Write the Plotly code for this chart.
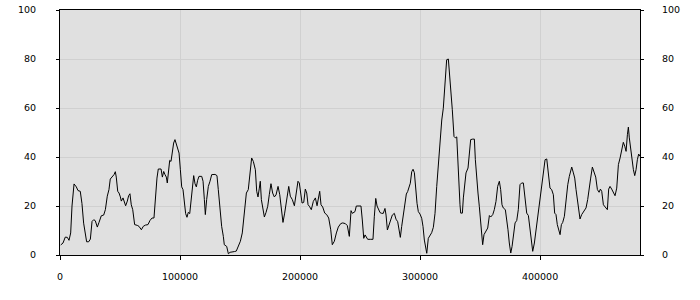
import plotly.graph_objects as go

# x positions (thousands) and values
x_k = [
    0.6, 2.5, 4.4, 6.1, 7.5, 8.9, 10.0, 11.7, 13.6, 15.0, 16.9, 18.3, 19.7, 21.1, 22.2, 23.9,
    25.3, 26.7, 28.1, 29.4, 31.1, 32.5, 34.4, 36.4, 37.8, 39.4, 40.8, 41.9, 43.6, 45.0, 46.1,
    46.9, 48.1, 49.2, 50.3, 51.1, 52.5, 53.6, 54.7, 56.1, 57.2, 58.3, 59.4, 60.6, 62.2, 64.4,
    65.8, 67.8, 69.4, 71.1, 73.3, 75.0, 76.7, 78.3, 79.4, 80.8,
    81.9, 84.2, 85.3, 86.4, 87.5, 88.6, 89.4, 90.3, 91.4, 92.5, 93.6, 94.7, 95.8, 96.9, 98.1,
    99.2, 100.3, 101.4, 102.5, 103.6, 104.7, 105.8, 106.9, 108.1, 109.2, 110.3, 111.4, 112.5,
    113.6, 114.7, 115.8, 118.1, 119.2, 120.3, 121.1, 122.2, 123.6, 125.0, 126.4, 129.2, 130.8,
    131.9, 133.3, 134.7, 136.1, 136.9, 138.9, 140.3, 141.7, 143.6, 145.3, 146.9, 148.6, 150.3,
    151.9, 153.6, 155.3, 156.9, 158.3, 159.7, 161.1,
    162.8, 163.9, 165.0, 166.1, 166.9, 167.8, 168.9, 170.3, 171.7, 173.1, 174.4, 175.8, 177.2,
    178.6, 180.0, 181.7, 183.1, 184.4, 185.8, 187.2, 188.9, 190.6, 191.9, 193.6, 195.3, 196.7,
    198.3, 199.4, 200.6, 201.7, 203.1, 204.4, 205.6, 206.7, 207.8, 209.4, 211.1, 212.8, 214.2,
    215.3, 216.4, 217.5, 218.9, 220.6, 222.2, 223.9, 225.6, 226.9, 228.6, 230.3, 231.9, 233.9,
    235.6, 237.8, 239.4, 241.1,
    242.5, 243.6, 244.7, 245.8, 246.9, 248.6, 250.8, 251.9, 253.1, 254.2, 255.3, 256.4, 258.6,
    260.8, 261.9, 263.1, 264.2, 265.3, 266.7, 268.1, 269.4, 270.8, 271.7, 272.8, 274.2, 275.6,
    276.9, 278.6, 280.0, 281.4, 282.5, 283.6, 284.7, 286.1, 287.5, 288.6, 289.7, 290.8, 291.9,
    293.1, 294.2, 295.3, 296.4, 297.5, 298.6, 300.0, 301.4, 302.5, 303.6, 304.7, 305.6, 306.9,
    308.3, 309.7, 311.1, 312.5, 313.9, 315.3, 316.7, 318.1, 319.4, 320.6,
    322.2, 323.6, 324.4, 325.8, 326.9, 328.3, 329.4, 330.6, 331.1, 332.2, 333.3, 333.9, 335.3,
    336.1, 337.2, 338.3, 340.0, 341.1, 342.2, 343.9, 345.3, 346.1, 347.2, 348.3, 349.4, 350.6,
    351.4, 352.2, 353.3, 355.0, 356.4, 357.8, 358.9, 360.6, 361.9, 363.3, 364.7, 366.1, 367.2,
    368.3, 369.4, 371.1, 372.2, 373.3, 374.4, 375.6, 376.7, 377.8, 379.2, 380.6, 381.9, 383.3,
    384.7, 386.1, 387.5, 388.9, 390.3, 391.7, 392.8, 393.9, 395.3, 396.7, 398.1, 399.4,
    400.0, 401.4, 402.8, 404.2, 405.6, 406.9, 408.3, 409.7, 411.1, 412.2, 413.3, 414.4, 415.6,
    416.7, 417.8, 418.9, 420.3, 421.7, 423.1, 424.4, 426.4, 427.8, 428.9, 430.0, 431.1, 432.2,
    433.3, 434.7, 436.1, 437.2, 438.3, 439.7, 441.1, 442.2, 443.6, 445.0, 446.4, 447.8, 449.2,
    450.3, 451.4, 452.8, 454.2, 456.1, 457.2, 458.3, 459.7, 461.1, 462.5, 463.9, 465.3, 466.7,
    468.1, 469.4, 470.6, 471.7, 472.8, 473.6, 474.4, 475.6, 476.7, 477.8, 478.9, 480.0, 481.1,
    482.2, 483.3,
]
values = [
    4.1, 4.9, 7.3, 7.2, 6.0, 9.0, 20.0, 29.0, 27.8, 26.3, 26.0, 21.0, 13.0, 9.0, 5.4, 5.4,
    6.5, 13.7, 14.4, 14.0, 11.4, 13.3, 16.0, 16.3, 18.5, 24.0, 26.7, 31.0, 32.0, 32.8, 34.0,
    31.8, 26.0, 25.3, 23.7, 22.0, 23.3, 21.2, 20.1, 22.0, 24.2, 25.0, 20.5, 18.5, 12.4, 12.1,
    11.7, 10.3, 11.7, 12.2, 12.4, 14.1, 15.1, 15.1, 24.0, 31.4,
    35.1, 35.1, 31.8, 34.1, 32.8, 31.8, 29.4, 33.5, 38.6, 38.2, 42.3, 45.7, 47.1, 45.4, 44.1,
    41.6, 34.8, 27.8, 26.7, 22.6, 16.9, 15.4, 17.4, 16.9, 22.6, 28.0, 32.4, 29.1,
    27.8, 30.5, 32.1, 32.1, 30.1, 22.6, 16.5, 22.6, 28.0, 30.1, 32.8, 32.9, 32.4,
    26.7, 18.5, 11.7, 7.6, 4.2, 3.5, 0.5, 1.1, 1.1, 1.4, 1.6, 3.5, 5.6,
    9.0, 17.1, 25.3, 26.7, 32.8, 39.6, 38.2,
    34.8, 26.0, 23.7, 27.3, 30.1, 22.6, 19.2, 15.5, 17.4, 19.9, 24.6, 29.1, 25.3,
    23.7, 24.5, 28.0, 24.6, 18.5, 13.3, 17.1, 23.3, 28.0, 24.0, 22.6, 20.1, 24.6,
    30.1, 29.4, 25.3, 21.2, 21.5, 26.9, 25.3, 20.5, 19.9, 18.5, 21.9, 23.3, 20.1,
    23.3, 26.0, 20.5, 19.6, 17.1, 16.5, 15.1, 10.3, 4.2, 5.6, 9.0, 11.4, 12.8,
    13.1, 12.8, 12.0, 7.6,
    18.1, 17.0, 17.3, 17.7, 20.0, 20.0, 20.0, 14.3, 6.8, 8.2, 7.2, 6.4, 6.4,
    6.4, 15.6, 23.1, 20.0, 19.0, 17.3, 17.0, 17.0, 19.0, 16.3, 10.2, 12.2, 13.6,
    16.3, 17.0, 14.6, 13.6, 9.5, 7.2, 11.6, 17.0, 21.1, 24.9, 25.9, 27.9, 29.3,
    34.0, 35.0, 33.6, 26.5, 21.1, 17.7, 16.7, 15.0, 11.6, 6.1, 2.7, 0.7, 6.8,
    8.2, 9.1, 11.3, 17.0, 27.9, 37.4, 44.2, 55.1, 59.9, 67.6,
    79.7, 80.0, 75.6, 67.5, 59.3, 48.4, 47.8, 48.2, 43.0, 28.0, 20.5, 17.1, 17.1,
    23.3, 30.1, 33.5, 35.5, 40.3, 47.1, 47.3, 47.3, 38.9, 30.1, 25.3, 19.9, 13.7,
    7.6, 4.2, 8.3, 9.7, 11.0, 16.1, 15.5, 16.5, 18.5, 21.9, 28.0, 30.1, 26.7,
    20.5, 19.2, 18.5, 15.1, 10.3, 4.9, 0.8, 3.5, 7.6, 13.1, 14.1, 18.5, 28.7,
    29.4, 29.4, 22.6, 17.1, 16.1, 10.3, 3.5, 1.5, 4.9, 10.3, 16.5, 21.9,
    22.6, 28.0, 34.1, 38.9, 39.2, 33.5, 27.3, 26.7, 24.6, 17.1, 16.5, 12.4, 10.3,
    8.3, 12.4, 13.3, 15.8, 22.6, 28.7, 32.1, 35.9, 33.5, 31.4, 26.7, 22.6, 17.1,
    14.7, 16.5, 17.4, 18.5, 19.2, 22.6, 26.7, 31.4, 35.9, 34.1, 31.8, 26.7, 25.6,
    26.9, 26.0, 20.5, 19.6, 18.5, 26.9, 28.0, 26.9, 25.3, 24.2, 27.3, 36.9, 39.6,
    42.3, 46.0, 44.4, 42.3, 49.1, 52.2, 47.8, 43.0, 38.9, 34.8, 32.4, 34.8, 38.9,
    41.2, 40.3,
]
x_ticks = [0, 100000, 200000, 300000, 400000]
y_ticks = [0, 20, 40, 60, 80, 100]

xs = [v * 1000 for v in x_k]

font = dict(family="DejaVu Sans, Verdana, sans-serif", size=9.5, color="#000000")

fig = go.Figure()
fig.add_trace(go.Scatter(x=xs, y=values, mode="lines",
                         line=dict(color="#000000", width=1), showlegend=False,
                         hoverinfo="skip"))
# invisible trace for the right axis
fig.add_trace(go.Scatter(x=[xs[0]], y=[values[0]], yaxis="y2", mode="lines",
                         line=dict(width=0), showlegend=False, hoverinfo="skip"))

fig.update_layout(
    width=700, height=300,
    margin=dict(l=60, r=60, t=10, b=45, autoexpand=False),
    paper_bgcolor="#ffffff", plot_bgcolor="#e0e0e0",
    font=font,
    xaxis=dict(range=[0, 483300], tickvals=x_ticks, ticktext=[str(t) for t in x_ticks],
               showgrid=True, gridcolor="#d0d0d0", gridwidth=1,
               showline=True, linecolor="#000000", linewidth=1, mirror=True,
               ticks="outside", ticklen=4, tickcolor="#000000", tickwidth=1,
               ticklabelstandoff=9, zeroline=False, tickfont=font, automargin=False),
    yaxis=dict(range=[0, 100], tickvals=y_ticks, showgrid=True, gridcolor="#d0d0d0",
               gridwidth=1, showline=True, linecolor="#000000", linewidth=1,
               ticks="outside", ticklen=3, tickcolor="#000000", tickwidth=1,
               ticklabelstandoff=18, zeroline=False, tickfont=font, automargin=False),
    yaxis2=dict(range=[0, 100], tickvals=y_ticks, overlaying="y", side="right",
                showgrid=False, showline=True, linecolor="#000000", linewidth=1,
                ticks="outside", ticklen=3, tickcolor="#000000", tickwidth=1,
                ticklabelstandoff=16, zeroline=False, tickfont=font, automargin=False),
)

fig.write_html("out.html")
